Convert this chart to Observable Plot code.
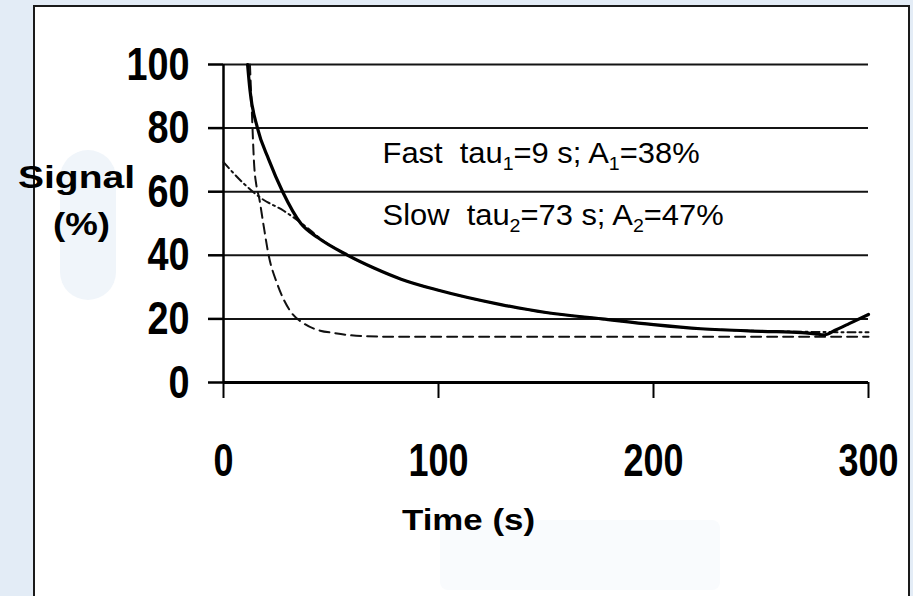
<!DOCTYPE html>
<html>
<head>
<meta charset="utf-8">
<script src="https://cdn.jsdelivr.net/npm/d3@7"></script>
<script src="https://cdn.jsdelivr.net/npm/@observablehq/plot@0.6"></script>
<style>
  html, body { margin: 0; padding: 0; }
  body { width: 913px; height: 596px; background: #e3ecf6; position: relative; overflow: hidden; }
  #panel { position: absolute; left: 33px; top: 5px; width: 873px; height: 600px; border: 2px solid #1a1a1a; background: #fff; }
  #blob1 { position: absolute; left: 60px; top: 150px; width: 56px; height: 150px; background: #f0f5fa; border-radius: 28px; }
  #blob2 { position: absolute; left: 440px; top: 520px; width: 280px; height: 70px; background: #f9fbfd; border-radius: 8px; }
  #chart { position: absolute; left: 0; top: 0; }
</style>
</head>
<body>
<div id="panel"></div>
<div id="blob1"></div>
<div id="blob2"></div>
<div id="chart"></div>
<script>
// ---- data ----
const xTicks = [0, 100, 200, 300];
const yTicks = [0, 20, 40, 60, 80, 100];
const gridVals = [20, 40, 60, 80, 100];

// measured signal (solid, thick)
const dataT = [11.2, 12.3, 15.8, 21.1, 27.5, 36, 44, 57.8, 70, 82.6, 100, 129, 150, 176, 200, 222, 250, 269, 275, 279.6, 285, 291, 300];
const dataV = [100, 92, 80, 70, 60, 50, 45.5, 40, 36, 32.5, 29, 24.5, 22, 20, 18.2, 16.9, 16.1, 15.7, 15.3, 15.0, 16.6, 18.5, 21.4];

// fast component fit (dashed)
const fastT = [12.3, 13.2, 14.3, 15.3, 16.6, 18.5, 21, 25, 31, 37.5, 45, 51, 64, 80, 100, 150, 200, 250, 300];
const fastV = [100, 85, 68, 62, 58, 50, 40, 31, 22.5, 18.5, 16.3, 15.6, 14.6, 14.4, 14.4, 14.4, 14.4, 14.4, 14.4];

// slow component fit (dash-dot)
const slowT = [0, 9.5, 17.4, 28, 40.7, 44, 57.8, 70, 82.6, 100, 129, 150, 176, 200, 222, 250, 275, 300];
const slowV = [69.3, 62.5, 58, 54, 47.7, 45.8, 40, 36, 32.5, 29, 24.5, 22, 20, 18.2, 16.9, 16.2, 15.9, 15.8];

const toRows = (ts, vs) => ts.map((t, i) => ({t, v: vs[i]}));
const data = toRows(dataT, dataV);
const fast = toRows(fastT, fastV);
const slow = toRows(slowT, slowV);

const sansFont = "'Liberation Sans', Arial, sans-serif";

const chart = Plot.plot({
  width: 913,
  height: 596,
  marginLeft: 223,
  marginRight: 45,
  marginTop: 64,
  marginBottom: 214,
  style: {background: "transparent", overflow: "visible"},
  x: {domain: [0, 300]},
  y: {domain: [0, 100]},
  marks: [
    Plot.ruleY(gridVals, {x1: 0, x2: 300, stroke: "#141414", strokeWidth: 2}),
    Plot.axisY({ticks: yTicks, tickSize: 15, tickPadding: 19, strokeWidth: 2.5, label: null, tickFormat: d => String(d)}),
    Plot.axisX({ticks: xTicks, tickSize: 16, tickPadding: 44, strokeWidth: 2, label: null, tickFormat: d => String(d)}),
    Plot.ruleX([0], {y1: 0, y2: 100, stroke: "#000", strokeWidth: 2.5}),
    Plot.ruleY([0], {x1: 0, x2: 300, stroke: "#000", strokeWidth: 3}),
    Plot.line(slow, {x: "t", y: "v", curve: "monotone-x", stroke: "#111", strokeWidth: 2, strokeDasharray: "8,4,2,4"}),
    Plot.line(fast, {x: "t", y: "v", curve: "monotone-x", stroke: "#111", strokeWidth: 2, strokeDasharray: "10,6"}),
    Plot.line(data, {x: "t", y: "v", curve: "monotone-x", stroke: "#000", strokeWidth: 3.2})
  ]
});
document.getElementById("chart").appendChild(chart);

const svg = d3.select(chart);
// tick label styling: bold, horizontally condensed
svg.selectAll('g[aria-label="y-axis tick label"] text, g[aria-label="x-axis tick label"] text')
  .attr("font-family", sansFont)
  .attr("font-weight", "bold")
  .attr("font-size", 47)
  .attr("fill", "#000");
svg.selectAll('g[aria-label="y-axis tick label"] text').each(function() {
  const n = this.textContent.length;
  d3.select(this).attr("textLength", n * 21).attr("lengthAdjust", "spacingAndGlyphs");
});
svg.selectAll('g[aria-label="x-axis tick label"] text').each(function() {
  const n = this.textContent.length;
  d3.select(this).attr("textLength", n * 20).attr("lengthAdjust", "spacingAndGlyphs");
});

const sx = chart.scale("x"), sy = chart.scale("y");

// annotation with subscripts
function annot(yVal, parts, sxf) {
  const g = svg.append("g")
    .attr("transform", `translate(${sx.apply(74.2)},${sy.apply(yVal)}) scale(${sxf},1)`);
  const t = g.append("text")
    .attr("x", 0).attr("y", 0)
    .attr("text-anchor", "start")
    .attr("font-family", sansFont)
    .attr("font-size", 30)
    .attr("fill", "#000")
    .style("white-space", "pre");
  let shifted = false;
  parts.forEach(([txt, sub]) => {
    const ts = t.append("tspan").text(txt);
    if (sub) { ts.attr("dy", 7).attr("font-size", 19); shifted = true; }
    else if (shifted) { ts.attr("dy", -7); shifted = false; }
  });
}
annot(68.8, [["Fast  tau"], ["1", true], ["=9 s; A"], ["1", true], ["=38%"]], 1.03);
annot(49.3, [["Slow  tau"], ["2", true], ["=73 s; A"], ["2", true], ["=47%"]], 1.03);

// axis titles
svg.append("text").attr("x", 76.5).attr("y", 188).attr("text-anchor", "middle")
  .attr("font-family", sansFont).attr("font-weight", "bold").attr("font-size", 31)
  .attr("textLength", 117).attr("lengthAdjust", "spacingAndGlyphs").text("Signal");
svg.append("text").attr("x", 81.5).attr("y", 235).attr("text-anchor", "middle")
  .attr("font-family", sansFont).attr("font-weight", "bold").attr("font-size", 31)
  .attr("textLength", 57).attr("lengthAdjust", "spacingAndGlyphs").text("(%)");
svg.append("text").attr("x", 468.5).attr("y", 530).attr("text-anchor", "middle")
  .attr("font-family", sansFont).attr("font-weight", "bold").attr("font-size", 29)
  .attr("textLength", 133).attr("lengthAdjust", "spacingAndGlyphs").text("Time (s)");
</script>
</body>
</html>
